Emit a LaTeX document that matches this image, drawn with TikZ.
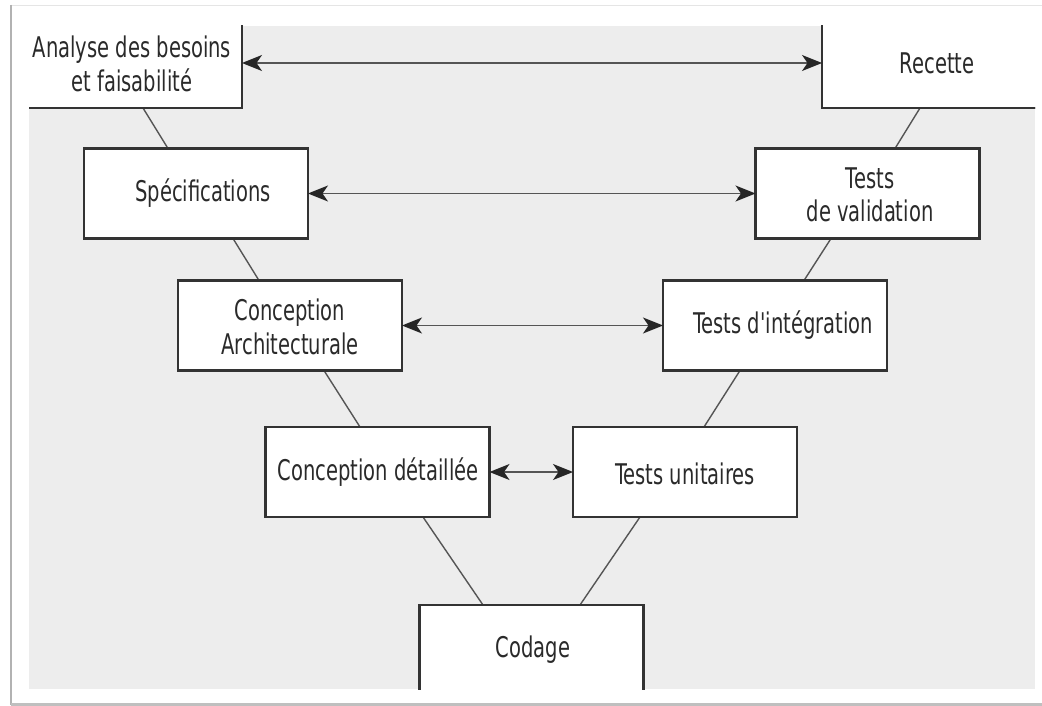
\documentclass[tikz,border=0pt]{standalone}
\usepackage{fontspec}
\usetikzlibrary{arrows.meta}
\newfontfamily\boxfont{DejaVu Sans}[FakeStretch=0.685]
\definecolor{panelgray}{HTML}{EDEDED}
\definecolor{edgegray}{HTML}{333333}
\definecolor{linkgray}{HTML}{555555}
\definecolor{txtgray}{HTML}{2A2A2A}
\begin{document}
\begin{tikzpicture}[x=1pt,y=-1pt,
  vbox/.style={draw=edgegray,line width=2.6pt,fill=white,minimum width=224pt,
    minimum height=90pt,inner sep=0pt,outer sep=0pt},
  lbl/.style={font=\boxfont\fontsize{28.5}{33.5}\selectfont,text=txtgray,
    align=center,inner sep=0pt},
  link/.style={draw=linkgray,line width=1.4pt},
  arr/.style={draw=linkgray,line width=1.4pt,
    >={Stealth[length=20pt,width=16pt,inset=5.5pt,color=black!85]},<->}]
\useasboundingbox (0,0) rectangle (1042,706);
\fill[white] (0,0) rectangle (1042,706);

% page edges
\draw[black!10,line width=1.2pt] (11,5.5) -- (1042,5.5);
\draw[black!30,line width=2.5pt] (11,5) -- (11,704.5);
\draw[black!25,line width=2.5pt] (11,704.5) -- (1042,704.5);

\begin{scope}
\clip (29,26) rectangle (1035,689);
\fill[panelgray] (29,26) rectangle (1035,689);

% phase boxes
\node[vbox] (analyse) at (130,63) {};
\node[vbox] (recette) at (934,63) {};
\node[vbox] (spec) at (196,193.5) {};
\node[vbox] (valid) at (867.5,193.5) {};
\node[vbox] (archi) at (290,325.5) {};
\node[vbox] (integ) at (775,325.5) {};
\node[vbox] (detail) at (377.5,472) {};
\node[vbox] (unit) at (685,472) {};
\node[vbox] (codage) at (531.5,650) {};

% links of the V
\draw[link] ([xshift=13pt]analyse.south) -- ([xshift=-28pt]spec.north);
\draw[link] ([xshift=37pt]spec.south) -- ([xshift=-31pt]archi.north);
\draw[link] ([xshift=34pt]archi.south) -- ([xshift=-17.5pt]detail.north);
\draw[link] ([xshift=45.5pt]detail.south) -- ([xshift=-48.5pt]codage.north);
\draw[link] ([xshift=-45pt]unit.south) -- ([xshift=48.5pt]codage.north);
\draw[link] ([xshift=-35pt]integ.south) -- ([xshift=19pt]unit.north);
\draw[link] ([xshift=-36.5pt]valid.south) -- ([xshift=29pt]integ.north);
\draw[link] ([xshift=-14pt]recette.south) -- ([xshift=27.5pt]valid.north);

% box outlines again on top of the link ends
\foreach \n in {analyse,recette,spec,valid,archi,integ,detail,unit,codage}
  \draw[edgegray,line width=2.6pt] (\n.south west) rectangle (\n.north east);

% labels
\node[lbl] (analyse-t) at (132,64) {Analyse des besoins\\et faisabilité};
\node[lbl] (recette-t) at (937,63) {Recette};
\node[lbl] (spec-t) at (203,193) {Spécifications};
\node[lbl] (valid-t) at (870,195) {Tests\\de validation};
\node[lbl] (archi-t) at (290,327) {Conception\\Architecturale};
\node[lbl] (integ-t) at (783,325) {Tests d'intégration};
\node[lbl] (detail-t) at (378,472) {Conception détaillée};
\node[lbl] (unit-t) at (685,474) {Tests unitaires};
\node[lbl] (codage-t) at (533,650) {Codage};

% correspondences between the two branches
\draw[arr] (analyse.east) -- (recette.west);
\draw[arr] (spec.east) -- (valid.west);
\draw[arr] (archi.east) -- (integ.west);
\draw[arr] (detail.east) -- (unit.west);
\end{scope}
\end{tikzpicture}
\end{document}
